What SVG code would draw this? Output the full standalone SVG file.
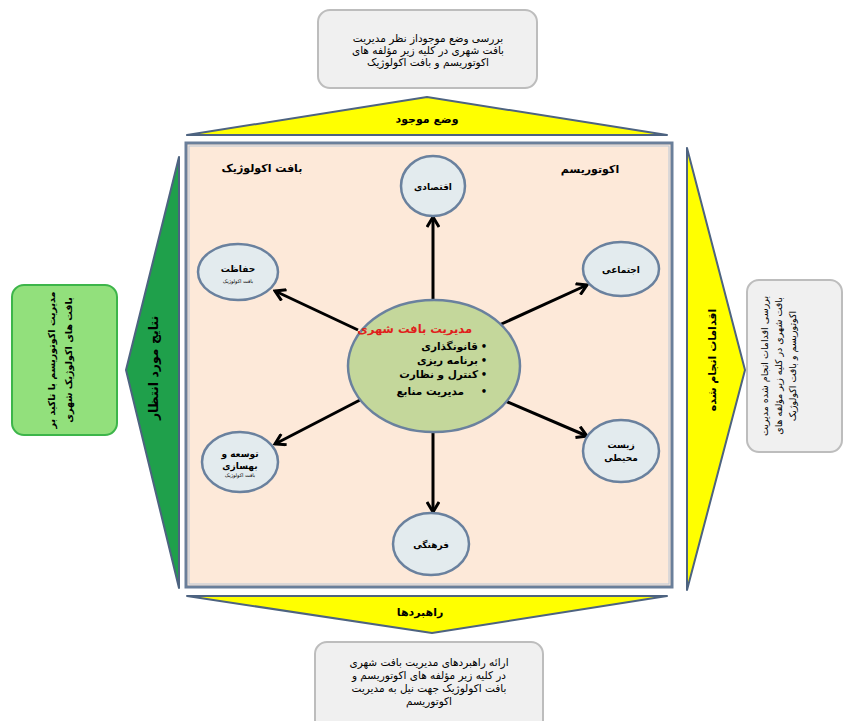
<svg xmlns="http://www.w3.org/2000/svg" width="845" height="721" viewBox="0 0 845 721">
<defs>
<style>
.t{font-family:"DejaVu Sans",sans-serif;fill:#000;}
.b{font-weight:bold;}
.gbox{fill:#f0f0f0;stroke:#bdbdbd;stroke-width:2;}
.tri{stroke:#4d6380;stroke-width:2;stroke-linejoin:round;}
.node{fill:#e3ebee;stroke:#6a819e;stroke-width:2.5;}
.arr{stroke:#000;stroke-width:3;fill:none;marker-end:url(#ah);}
</style>
<marker id="ah" viewBox="0 0 14 14" refX="12" refY="7" markerWidth="14" markerHeight="14" markerUnits="userSpaceOnUse" orient="auto">
<path d="M2,1 L12,7 L2,13" fill="none" stroke="#000" stroke-width="3"/>
</marker>
</defs>
<rect width="845" height="721" fill="#fff"/>

<g id="frame">
<rect x="186" y="143" width="486" height="444" fill="#fde9d9" stroke="#6a7f9a" stroke-width="3"/>
<rect x="189" y="146" width="480" height="438" fill="none" stroke="#b8c6d6" stroke-width="1"/>
<text class="t b" x="262" y="172" font-size="11" text-anchor="middle">بافت اکولوژیک</text>
<text class="t b" x="590" y="173" font-size="11" text-anchor="middle">اکوتوریسم</text>
</g>

<g id="top-triangle">
<polygon class="tri" points="187,135 667,135 427,97" fill="#ffff00"/>
<text class="t b" x="427" y="123" font-size="11" text-anchor="middle">وضع موجود</text>
</g>
<g id="top-box">
<rect class="gbox" x="318" y="10" width="219" height="78" rx="12"/>
<text class="t" font-size="10.5" text-anchor="middle" fill="#222"><tspan x="428" y="42">بررسی وضع موجوداز نظر مدیریت</tspan><tspan x="428" y="54">بافت شهری  در کلیه زیر مؤلفه های</tspan><tspan x="428" y="66">اکوتوریسم و بافت اکولوژیک</tspan></text>
</g>

<g id="bottom-triangle">
<polygon class="tri" points="187,596 667,596 432,633" fill="#ffff00"/>
<text class="t b" x="420" y="616" font-size="11" text-anchor="middle">راهبردها</text>
</g>
<g id="bottom-box">
<rect class="gbox" x="315" y="642" width="228" height="90" rx="12"/>
<text class="t" font-size="10.5" text-anchor="middle" fill="#222"><tspan x="429" y="666">ارائه راهبردهای مدیریت بافت شهری</tspan><tspan x="429" y="679">در کلیه زیر مؤلفه های اکوتوریسم و</tspan><tspan x="429" y="692">بافت اکولوژیک  جهت نیل به مدیریت</tspan><tspan x="429" y="705">اکوتوریسم</tspan></text>
</g>

<g id="left-triangle">
<polygon class="tri" points="179,157 179,588 126,370" fill="#1fa04b"/>
<text class="t b" font-size="12.5" text-anchor="middle" dominant-baseline="central" transform="translate(153,368) rotate(-90)">نتایج مورد انتظار</text>
</g>
<g id="left-box">
<rect x="12" y="285" width="105" height="150" rx="12" fill="#92e07c" stroke="#3db54a" stroke-width="2"/>
<text class="t b" font-size="9.5" text-anchor="middle" transform="translate(55,360) rotate(-90)"><tspan x="0" y="0">مدیریت اکوتوریسم با تاکید بر</tspan><tspan x="0" y="17">بافت های اکولوژیک شهری</tspan></text>
</g>

<g id="right-triangle">
<polygon class="tri" points="687,148 687,590 745,370" fill="#ffff00"/>
<text class="t b" font-size="11" text-anchor="middle" dominant-baseline="central" transform="translate(712,360) rotate(-90)">اقدامات انجام شده</text>
</g>
<g id="right-box">
<rect class="gbox" x="747" y="280" width="95" height="172" rx="12"/>
<text class="t" font-size="9.5" text-anchor="middle" fill="#222" transform="translate(768,366) rotate(-90)"><tspan x="0" y="0">بررسی اقدامات انجام شده مدیریت</tspan><tspan x="0" y="14">بافت شهری در کلیه زیر مؤلفه های</tspan><tspan x="0" y="28">اکوتوریسم و بافت اکولوژیک</tspan></text>
</g>

<g id="connectors">
<line class="arr" x1="433" y1="300" x2="433" y2="217"/>
<line class="arr" x1="497" y1="326" x2="587" y2="285"/>
<line class="arr" x1="358" y1="330" x2="275" y2="291"/>
<line class="arr" x1="360" y1="400" x2="275" y2="444"/>
<line class="arr" x1="433" y1="432" x2="433" y2="512"/>
<line class="arr" x1="503" y1="400" x2="587" y2="436"/>
</g>

<g id="center">
<ellipse cx="434" cy="366" rx="86" ry="66" fill="#c4d79b" stroke="#6a819e" stroke-width="2.5"/>
<text class="t b" x="472" y="333" font-size="11.5" text-anchor="end" style="fill:#e0201b">مدیریت بافت شهری</text>
<text class="t b" font-size="10.5" text-anchor="end"><tspan x="478" y="350">قانونگذاری</tspan><tspan x="478" y="364">برنامه ریزی</tspan><tspan x="478" y="378">کنترل و نظارت</tspan><tspan x="464" y="395">مدیریت منابع</tspan></text>
<text class="t b" font-size="10" text-anchor="middle"><tspan x="484" y="350">•</tspan><tspan x="484" y="364">•</tspan><tspan x="484" y="378">•</tspan><tspan x="484" y="395">•</tspan></text>
</g>

<g id="n-eqtesadi">
<ellipse class="node" cx="433" cy="186" rx="32" ry="30"/>
<text class="t b" x="433" y="190" font-size="9" text-anchor="middle">اقتصادی</text>
</g>
<g id="n-ejtemai">
<ellipse class="node" cx="621" cy="269" rx="38" ry="27"/>
<text class="t b" x="621" y="273" font-size="9" text-anchor="middle">اجتماعی</text>
</g>
<g id="n-hefazat">
<ellipse class="node" cx="238" cy="272" rx="40" ry="28"/>
<text class="t b" x="238" y="272" font-size="9" text-anchor="middle">حفاظت</text>
<text class="t" x="238" y="283" font-size="5" text-anchor="middle">بافت اکولوژیک</text>
</g>
<g id="n-tose">
<ellipse class="node" cx="240" cy="462" rx="38" ry="30"/>
<text class="t b" font-size="9" text-anchor="middle"><tspan x="240" y="457">توسعه و</tspan><tspan x="240" y="469">بهسازی</tspan></text>
<text class="t" x="240" y="477" font-size="5" text-anchor="middle">بافت اکولوژیک</text>
</g>
<g id="n-farhangi">
<ellipse class="node" cx="431" cy="544" rx="38" ry="31"/>
<text class="t b" x="431" y="548" font-size="9" text-anchor="middle">فرهنگی</text>
</g>
<g id="n-zist">
<ellipse class="node" cx="621" cy="451" rx="38" ry="31"/>
<text class="t b" font-size="9" text-anchor="middle"><tspan x="621" y="448">زیست</tspan><tspan x="621" y="461">محیطی</tspan></text>
</g>
</svg>
